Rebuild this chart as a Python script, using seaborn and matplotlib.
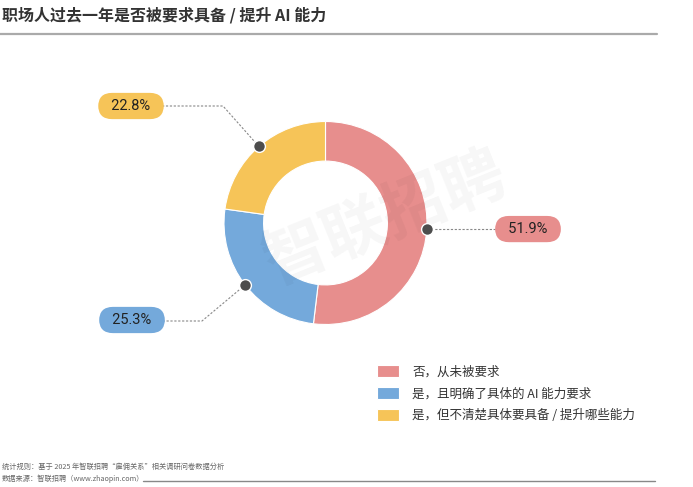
import numpy as np
import matplotlib.pyplot as plt
import seaborn as sns

# Data
categories = ["否，从未被要求", "是，且明确了具体的 AI 能力要求", "是，但不清楚具体要具备 / 提升哪些能力"]
shares = [51.9, 25.3, 22.8]
colors = ["#E78E8D", "#74A9DB", "#F6C458"]

title = "职场人过去一年是否被要求具备 / 提升 AI 能力"
note_rule = "统计规则：基于 2025 年智联招聘“雇佣关系”相关调研问卷数据分析"
note_source = "数据来源：智联招聘（www.zhaopin.com）"

sns.set_theme(style="white")
plt.rcParams["font.family"] = ["Noto Sans CJK SC", "DejaVu Sans"]

W, H = 693, 487
fig = plt.figure(figsize=(W / 100, H / 100), dpi=100, facecolor="white")
# full-figure axes in pixel units (y measured upward)
ax = fig.add_axes([0, 0, 1, 1])

cx, cy, r = 325.5, H - 223, 101.5
wedges, _ = ax.pie(
    shares,
    colors=colors,
    startangle=90,
    counterclock=False,
    center=(cx, cy),
    radius=r,
    frame=True,
    wedgeprops=dict(width=r * 0.39, edgecolor="white", linewidth=0.8),
)
ax.set_xlim(0, W)
ax.set_ylim(0, H)
ax.set_aspect("equal")
ax.axis("off")

# watermark
ax.text(385, H - 220, "智联招聘", fontsize=46, fontweight="bold", color="#000000",
        alpha=0.035, rotation=22, ha="center", va="center", zorder=3)

# leader lines + bubble labels
layout = [
    dict(elbow=None, label=(528, H - 231)),
    dict(elbow=(202, H - 321), label=(132, H - 320)),
    dict(elbow=(223, H - 106), label=(131, H - 106)),
]

for w, val, col, lay in zip(wedges, shares, colors, layout):
    ang = np.deg2rad((w.theta1 + w.theta2) / 2)
    px, py = cx + r * np.cos(ang), cy + r * np.sin(ang)
    lx, ly = lay["label"]
    if lay["elbow"] is None:
        xs, ys = [px, lx - 33], [py, py]
        ly = py
    else:
        ex, ey = lay["elbow"]
        xs, ys = [px, ex, lx + 32], [py, ey, ey]
    ax.plot(xs, ys, color="#888888", linestyle=(0, (2, 1.5)), linewidth=0.8, zorder=4)
    ax.scatter([px], [py], s=72, color="#4D4D4D", edgecolor="white", linewidth=1.0, zorder=5)
    ax.text(lx, ly, f"  {val:.1f}%  ", fontsize=10.5, color="#222222", ha="center", va="center",
            family=["Roboto", "DejaVu Sans"], zorder=6,
            bbox=dict(boxstyle="round,pad=0.42,rounding_size=0.95", facecolor=col, edgecolor="none"))

# legend
fig.legend(wedges, categories, loc="upper left", bbox_to_anchor=(366 / W, 1 - 354 / H),
           frameon=False, fontsize=9, handlelength=1.7, handleheight=1.1,
           handletextpad=1.1, labelspacing=0.68, labelcolor="#333333")

# title & rules
fig.text(2 / W, 1 - 15 / H, title, fontsize=11.5, fontweight="bold", color="#333333",
         ha="left", va="center")
fig.add_artist(plt.Line2D([0, 657 / W], [1 - 34 / H, 1 - 34 / H], color="#AAAAAA", linewidth=1.6))

fig.text(2 / W, 1 - 467 / H, note_rule, fontsize=5.2, color="#666666", ha="left", va="center")
fig.text(2 / W, 1 - 479 / H, note_source, fontsize=5.2, color="#666666", ha="left", va="center")
fig.add_artist(plt.Line2D([143 / W, 655 / W], [1 - 481 / H, 1 - 481 / H], color="#888888", linewidth=1.0))

plt.savefig("out.png", dpi=100, facecolor="white")
plt.close()
